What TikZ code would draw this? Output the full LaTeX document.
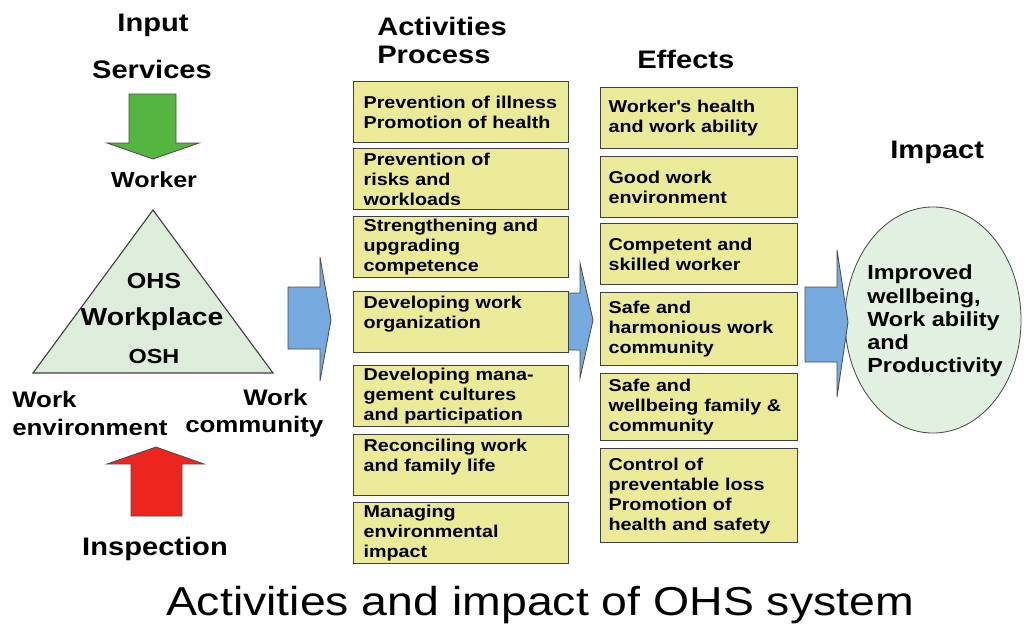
\documentclass[tikz,border=0pt]{standalone}
\usepackage{fontspec}
\setmainfont{Liberation Sans}[FakeStretch=1.15]
\definecolor{boxyellow}{RGB}{234,234,152}
\definecolor{arrowblue}{RGB}{118,170,222}
\definecolor{trigreen}{RGB}{222,236,220}
\definecolor{ellgreen}{RGB}{226,240,226}
\definecolor{arrowgreen}{RGB}{84,182,62}
\definecolor{arrowred}{RGB}{236,38,30}
\tikzset{
  hdr/.style={font=\fontsize{18}{20}\selectfont\bfseries, inner sep=0pt},
  lbl/.style={font=\fontsize{16}{18}\selectfont\bfseries, inner sep=0pt},
  actbox/.style={draw=black!75, fill=boxyellow, line width=0.9pt, anchor=north west,
    minimum width=5.375cm, minimum height=1.525cm, inner xsep=0.25cm, inner ysep=0pt,
    text width=4.875cm, align=left, font=\fontsize{12.2}{14.2}\selectfont\bfseries},
  effbox/.style={actbox, minimum width=4.925cm, inner xsep=0.2cm, text width=4.525cm},
  blockarrow/.style={draw=black!70, line width=0.6pt, line join=miter}
}
\begin{document}
\begin{tikzpicture}[x=0.025cm, y=-0.025cm]
\useasboundingbox (0,0) rectangle (1025,626);
\draw[fill=trigreen, draw=black!75, line width=0.8pt] (153,210) -- (273,373) -- (33,373) -- cycle;
\draw[blockarrow, fill=arrowgreen] (129,94) -- (176,94) -- (176,143) -- (199,143) -- (153,159) -- (107,143) -- (129,143) -- cycle;
\draw[blockarrow, fill=arrowred] (131,516) -- (182,516) -- (182,464) -- (204,464) -- (156,447) -- (107,464) -- (131,464) -- cycle;
\draw[blockarrow, fill=arrowblue] (288,287) -- (320,287) -- (320,257) -- (331,320) -- (320,381) -- (320,349) -- (288,349) -- cycle;
\draw[blockarrow, fill=arrowblue] (555,293) -- (580,293) -- (580,263) -- (593,320) -- (580,378) -- (580,350) -- (555,350) -- cycle;

\node[hdr, anchor=base] (input) at (153,31) {Input};
\node[hdr, anchor=base] (services) at (152,78) {Services};
\node[lbl, font=\fontsize{15.5}{17}\selectfont\bfseries, anchor=base] (worker) at (154,187) {Worker};
\node[lbl, font=\fontsize{15.5}{17}\selectfont\bfseries, anchor=base] (ohs) at (154,288) {OHS};
\node[lbl, font=\fontsize{17.5}{19}\selectfont\bfseries, anchor=base] (workplace) at (152,325) {Workplace};
\node[lbl, font=\fontsize{14.5}{16}\selectfont\bfseries, anchor=base] (osh) at (154,363) {OSH};
\node[lbl, anchor=base west] (workl) at (12,407) {Work};
\node[lbl, anchor=base west] (environment) at (12,435) {environment};
\node[lbl, anchor=base west] (workr) at (243,405) {Work};
\node[lbl, anchor=base west] (community) at (185,432) {community};
\node[hdr, anchor=base] (inspection) at (155,555) {Inspection};

\node[hdr, anchor=base west] (activities) at (377,35) {Activities};
\node[hdr, anchor=base west] (process) at (377,63) {Process};
\node[actbox] (a1) at (353,81) {\mbox{Prevention of illness}\\\mbox{Promotion of health}};
\node[actbox] (a2) at (353,148) {Prevention of\\risks and\\workloads};
\node[actbox] (a3) at (353,216) {Strengthening and\\upgrading\\competence};
\node[actbox] (a4) at (353,291) {Developing work\\organization\\\mbox{}};
\node[actbox] (a5) at (353,365) {Developing mana-\\gement cultures\\and participation};
\node[actbox] (a6) at (353,434) {Reconciling work\\and family life\\\mbox{}};
\node[actbox] (a7) at (353,502) {Managing\\environmental\\impact};

\node[hdr, anchor=base west] (effects) at (637,68) {Effects};
\node[effbox] (e1) at (600,87) {Worker\textquotesingle s health\\and work ability};
\node[effbox] (e2) at (600,156) {Good work\\environment};
\node[effbox] (e3) at (600,223) {Competent and\\skilled worker};
\node[effbox, minimum height=1.825cm] (e4) at (600,292) {Safe and\\harmonious work\\community};
\node[effbox, minimum height=1.675cm] (e5) at (600,373) {Safe and\\wellbeing family \&\\community};
\node[effbox, minimum height=2.35cm] (e6) at (600,448) {Control of\\preventable loss\\Promotion of\\health and safety};

\node[hdr, anchor=base west] (impact) at (890,158) {Impact};
\draw[fill=ellgreen, draw=black!70, line width=0.6pt] (933,320) ellipse [x radius=2.2cm, y radius=2.825cm];
\draw[blockarrow, fill=arrowblue] (805,287) -- (837,287) -- (837,250) -- (848,322) -- (837,397) -- (837,362) -- (805,362) -- cycle;
\node[align=left, inner sep=0pt, font=\fontsize{14.5}{16.5}\selectfont\bfseries] (improved) at (935,321) {Improved\\wellbeing,\\Work ability\\and\\Productivity};

\node[anchor=base, inner sep=0pt, font=\fontsize{28.7}{32}\selectfont] (title) at (540,615) {Activities and impact of OHS system};
\end{tikzpicture}
\end{document}
